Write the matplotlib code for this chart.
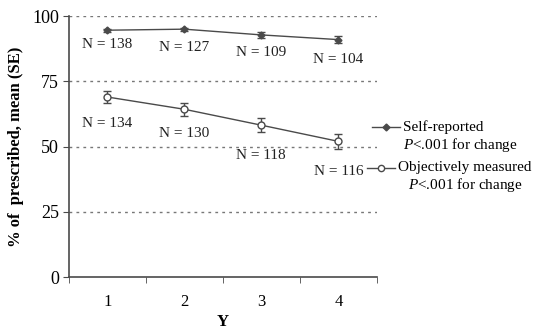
import numpy as np
import matplotlib.pyplot as plt

plt.rcParams['font.family'] = ['Liberation Serif', 'DejaVu Serif']
plt.rcParams['mathtext.fontset'] = 'custom'
plt.rcParams['mathtext.it'] = 'Liberation Serif:italic'
plt.rcParams['mathtext.rm'] = 'Liberation Serif'

# data
years = [1, 2, 3, 4]
self_mean = [94.6, 95.0, 92.8, 91.0]
self_se = [0.6, 0.6, 1.0, 1.4]
self_n = [138, 127, 109, 104]
obj_mean = [69.0, 64.3, 58.2, 52.0]
obj_se = [2.3, 2.4, 2.6, 2.8]
obj_n = [134, 130, 118, 116]

col = '#4a4a4a'
fig = plt.figure(figsize=(5.33, 3.29), dpi=100)
ax = fig.add_axes([0.129, 0.158, 0.578, 0.793])

ax.errorbar(years, self_mean, yerr=self_se, color=col, marker='D', ms=3.5, mfc=col,
            mec=col, lw=1, capsize=3, elinewidth=1)
ax.errorbar(years, obj_mean, yerr=obj_se, color=col, marker='o', ms=5, mfc='white',
            mec=col, lw=1, capsize=3, elinewidth=1)

# N labels under each point (offsets below the point, in data units)
self_off = [5.3, 6.9, 6.6, 7.5]
obj_off = [10, 9.1, 11.8, 11.4]
for x, y, n, d in zip(years, self_mean, self_n, self_off):
    ax.text(x, y - d, 'N = %d' % n, ha='center', va='center', fontsize=11, color='#222')
for x, y, n, d in zip(years, obj_mean, obj_n, obj_off):
    ax.text(x, y - d, 'N = %d' % n, ha='center', va='center', fontsize=11, color='#222')

ax.set_xlim(0.5, 4.5)
ax.set_ylim(0, 100)
ax.set_yticks([0, 25, 50, 75, 100])
ax.set_xticks(years)
ax.set_xticks([0.5, 1.5, 2.5, 3.5, 4.5], minor=True)
ax.tick_params(axis='x', which='major', length=0, pad=12, labelsize=12)
ax.tick_params(axis='x', which='minor', length=4, color=col)
ax.tick_params(axis='y', length=4, color=col, labelsize=13, pad=3)
for yv in [25, 50, 75, 100]:
    ax.axhline(yv, color='#777', lw=1, ls=(0, (2, 3)), zorder=0)
for s in ['top', 'right']:
    ax.spines[s].set_visible(False)
for s in ['left', 'bottom']:
    ax.spines[s].set_color(col)
    ax.spines[s].set_linewidth(1.2)

ax.set_xlabel('Y', fontweight='bold', fontsize=12, labelpad=3)
ax.set_ylabel('% of  prescribed, mean (SE)', fontweight='bold', fontsize=12, labelpad=6)

# legend drawn by hand to the right of the axes
t = ax.transAxes
ax.plot([0.984, 1.075], [0.575, 0.575], color=col, lw=1, transform=t, clip_on=False)
ax.plot([1.03], [0.575], marker='D', ms=3.5, color=col, transform=t, clip_on=False)
ax.text(1.086, 0.575, 'Self-reported', transform=t, va='center', fontsize=11)
ax.text(1.086, 0.506, '$P$<.001 for change', transform=t, va='center', fontsize=11)
ax.plot([0.968, 1.058], [0.418, 0.418], color=col, lw=1, transform=t, clip_on=False)
ax.plot([1.013], [0.418], marker='o', ms=4.5, mfc='white', mec=col, transform=t, clip_on=False)
ax.text(1.07, 0.418, 'Objectively measured', transform=t, va='center', fontsize=11)
ax.text(1.1, 0.352, '$P$<.001 for change', transform=t, va='center', fontsize=11)

fig.savefig('out.png', dpi=100)
